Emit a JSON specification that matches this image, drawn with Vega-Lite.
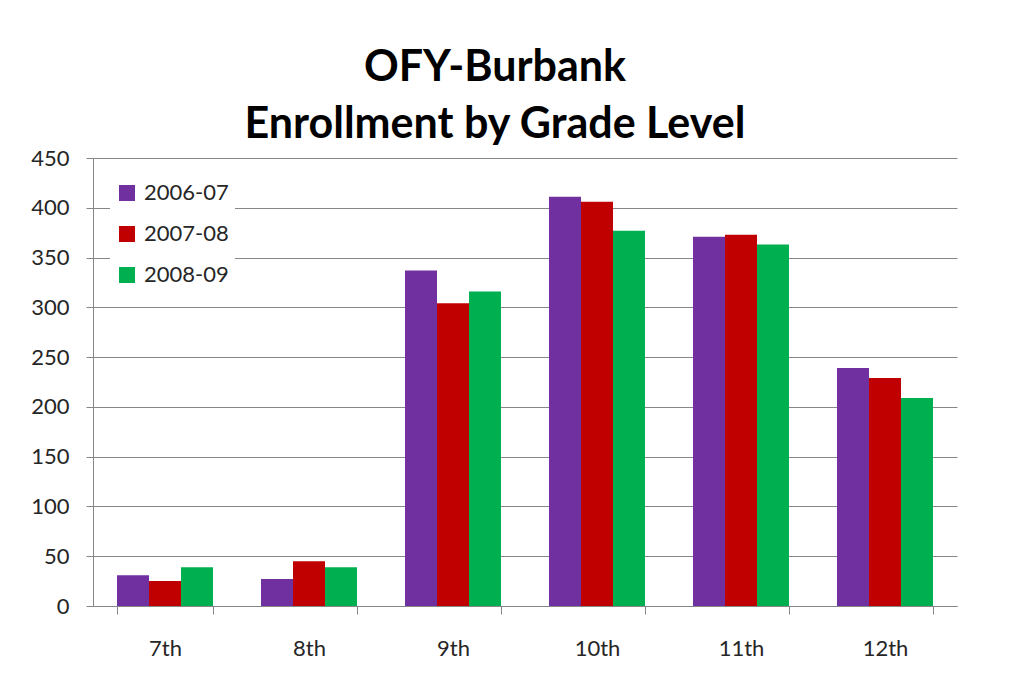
{
  "$schema": "https://vega.github.io/schema/vega-lite/v6.json",
  "width": 864,
  "height": 448,
  "autosize": {"type": "none"},
  "padding": {"left": 93, "top": 158, "right": 53, "bottom": 69},
  "background": "white",
  "title": {
    "text": ["OFY-Burbank", "Enrollment by Grade Level"],
    "font": "Lato",
    "fontSize": 43,
    "fontWeight": "bold",
    "lineHeight": 57,
    "color": "#000000",
    "anchor": "middle",
    "dx": -30,
    "offset": 0
  },
  "data": {
    "values": [
      {"grade": "7th", "year": "2006-07", "enrollment": 31},
      {"grade": "7th", "year": "2007-08", "enrollment": 25},
      {"grade": "7th", "year": "2008-09", "enrollment": 39},
      {"grade": "8th", "year": "2006-07", "enrollment": 27},
      {"grade": "8th", "year": "2007-08", "enrollment": 45},
      {"grade": "8th", "year": "2008-09", "enrollment": 39},
      {"grade": "9th", "year": "2006-07", "enrollment": 337},
      {"grade": "9th", "year": "2007-08", "enrollment": 304},
      {"grade": "9th", "year": "2008-09", "enrollment": 316},
      {"grade": "10th", "year": "2006-07", "enrollment": 411},
      {"grade": "10th", "year": "2007-08", "enrollment": 406},
      {"grade": "10th", "year": "2008-09", "enrollment": 377},
      {"grade": "11th", "year": "2006-07", "enrollment": 371},
      {"grade": "11th", "year": "2007-08", "enrollment": 373},
      {"grade": "11th", "year": "2008-09", "enrollment": 363},
      {"grade": "12th", "year": "2006-07", "enrollment": 239},
      {"grade": "12th", "year": "2007-08", "enrollment": 229},
      {"grade": "12th", "year": "2008-09", "enrollment": 209}
    ]
  },
  "mark": {"type": "bar"},
  "encoding": {
    "x": {
      "field": "grade",
      "type": "nominal",
      "sort": ["7th", "8th", "9th", "10th", "11th", "12th"],
      "scale": {"paddingInner": 0.3333, "paddingOuter": 0.1667},
      "axis": {
        "title": null,
        "labelAngle": 0,
        "tickBand": "extent",
        "tickSize": 8,
        "tickColor": "#868686",
        "domainColor": "#868686",
        "labelFont": "Lato",
        "labelFontSize": 22,
        "labelColor": "#262626",
        "labelPadding": 24,
        "grid": false
      }
    },
    "xOffset": {
      "field": "year",
      "type": "nominal",
      "scale": {"paddingInner": 0, "paddingOuter": 0}
    },
    "y": {
      "field": "enrollment",
      "type": "quantitative",
      "scale": {"domain": [0, 450], "nice": false},
      "axis": {
        "title": null,
        "values": [0, 50, 100, 150, 200, 250, 300, 350, 400, 450],
        "tickSize": 7,
        "tickColor": "#868686",
        "domainColor": "#868686",
        "gridColor": "#868686",
        "gridWidth": 1,
        "labelFont": "Lato",
        "labelFontSize": 22,
        "labelColor": "#262626",
        "labelPadding": 17
      }
    },
    "color": {
      "field": "year",
      "type": "nominal",
      "scale": {
        "domain": ["2006-07", "2007-08", "2008-09"],
        "range": ["#7030A0", "#C00000", "#00B050"]
      },
      "legend": {
        "title": null,
        "orient": "none",
        "legendX": 17,
        "legendY": 18,
        "padding": 6,
        "fillColor": "white",
        "symbolType": "square",
        "symbolSize": 256,
        "symbolStrokeWidth": 0,
        "labelFont": "Lato",
        "labelFontSize": 22,
        "labelColor": "#262626",
        "labelOffset": 6,
        "rowPadding": 19
      }
    }
  },
  "config": {
    "view": {"stroke": null},
    "axis": {"domainWidth": 1, "tickWidth": 1}
  }
}
